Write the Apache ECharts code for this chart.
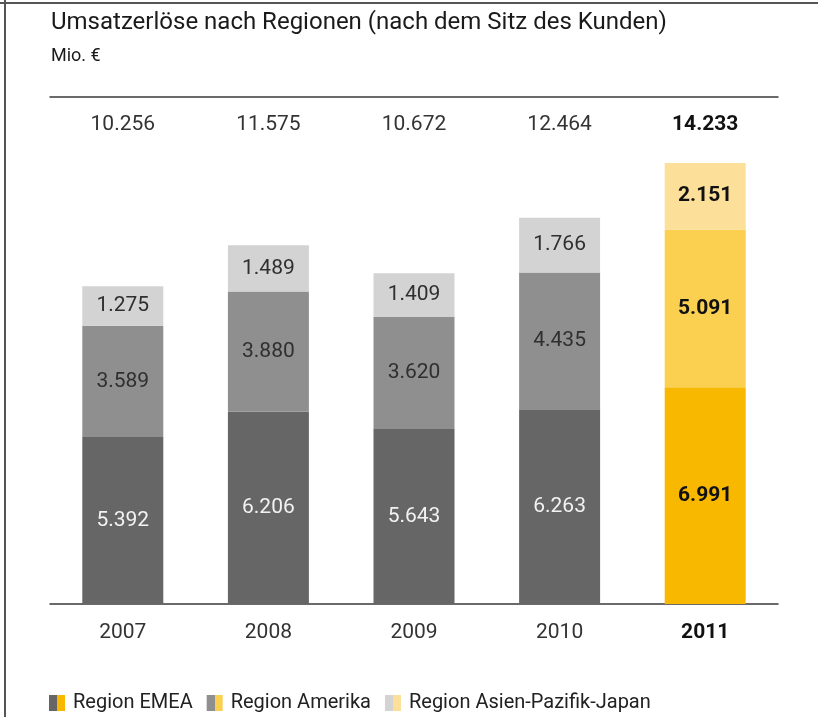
<!DOCTYPE html>
<html>
<head>
<meta charset="utf-8">
<script src="https://cdn.jsdelivr.net/npm/echarts@6/dist/echarts.min.js"></script>
<style>html,body{margin:0;padding:0;background:#fff}#c{width:818px;height:717px}</style>
</head>
<body>
<div id="c"></div>
<script>
const years = ['2007', '2008', '2009', '2010', '2011'];
const emea = [5392, 6206, 5643, 6263, 6991];
const amerika = [3589, 3880, 3620, 4435, 5091];
const apj = [1275, 1489, 1409, 1766, 2151];
const totals = [10256, 11575, 10672, 12464, 14233];
const seriesNames = ['Region EMEA', 'Region Amerika', 'Region Asien-Pazifik-Japan'];

const highlightIndex = 4;
const greyColors = ['#666666', '#8f8f8f', '#d3d3d3'];
const goldColors = ['#f9b800', '#fbcf4f', '#fce09a'];
const labelColors = ['#f2f2f2', '#2f2f2f', '#2f2f2f'];
const FONT = 'Roboto, "Liberation Sans", sans-serif';

function fmt(v) {
  const s = String(Math.round(v));
  return s.replace(/\B(?=(\d{3})+(?!\d))/g, '.');
}

function buildData(values, si) {
  return values.map((v, i) => {
    if (i === highlightIndex) {
      return {
        value: v,
        itemStyle: { color: goldColors[si] },
        label: { color: '#111', fontWeight: 'bold' }
      };
    }
    return { value: v };
  });
}

function split(c1, c2) {
  return {
    type: 'linear', x: 0, y: 0, x2: 1, y2: 0,
    colorStops: [
      { offset: 0, color: c1 }, { offset: 0.5, color: c1 },
      { offset: 0.5, color: c2 }, { offset: 1, color: c2 }
    ]
  };
}

const chart = echarts.init(document.getElementById('c'), null, { renderer: 'canvas' });
const valueSets = [emea, amerika, apj];

chart.setOption({
  backgroundColor: '#ffffff',
  animation: false,
  title: [
    { text: 'Umsatzerlöse nach Regionen (nach dem Sitz des Kunden)', left: 46, top: 6,
      textStyle: { fontFamily: FONT, fontSize: 24, fontWeight: 'normal', color: '#1a1a1a' } },
    { text: 'Mio. €', left: 46, top: 42,
      textStyle: { fontFamily: FONT, fontSize: 18, fontWeight: 'normal', color: '#1a1a1a' } }
  ],
  legend: {
    left: 44, top: 688, itemWidth: 16, itemHeight: 16, itemGap: 14,
    icon: 'rect',
    textStyle: { fontFamily: FONT, fontSize: 20, color: '#222', padding: [0, 0, 0, 3] },
    data: seriesNames.map((n, i) => ({ name: n, itemStyle: { color: split(greyColors[i], goldColors[i]) } }))
  },
  grid: { left: 50, right: 40, top: 97, bottom: 113 },
  xAxis: [
    {
      type: 'category', data: years, position: 'bottom',
      axisLine: { lineStyle: { color: '#3a3a3a', width: 1.5 } },
      axisTick: { show: false },
      axisLabel: {
        margin: 18, fontFamily: FONT, fontSize: 21, color: '#333',
        formatter: (v, i) => i === highlightIndex ? '{b|' + v + '}' : v,
        rich: { b: { fontFamily: FONT, fontSize: 21, fontWeight: 'bold', color: '#111' } }
      }
    },
    {
      type: 'category', data: totals.map(fmt), position: 'top',
      axisLine: { show: true, onZero: false, lineStyle: { color: '#3a3a3a', width: 1.5 } },
      axisTick: { show: false },
      axisLabel: {
        inside: true, margin: 17, fontFamily: FONT, fontSize: 21, color: '#333',
        formatter: (v, i) => i === highlightIndex ? '{b|' + v + '}' : v,
        rich: { b: { fontFamily: FONT, fontSize: 21, fontWeight: 'bold', color: '#111' } }
      }
    }
  ],
  yAxis: {
    type: 'value', min: 0, max: 16360, show: false,
    splitLine: { show: false }
  },
  series: valueSets.map((vals, si) => ({
    name: seriesNames[si],
    type: 'bar',
    stack: 'total',
    barWidth: 81,
    xAxisIndex: 0,
    itemStyle: { color: greyColors[si] },
    label: {
      show: true, position: 'inside',
      fontFamily: FONT, fontSize: 21, color: labelColors[si],
      formatter: p => fmt(p.value)
    },
    data: buildData(vals, si)
  })),
  graphic: [
    { type: 'line', shape: { x1: 5, y1: 0, x2: 5, y2: 717 }, style: { stroke: '#555', lineWidth: 2 } },
    { type: 'line', shape: { x1: 0, y1: 3, x2: 818, y2: 3 }, style: { stroke: '#555', lineWidth: 2 } }
  ]
});
</script>
</body>
</html>
